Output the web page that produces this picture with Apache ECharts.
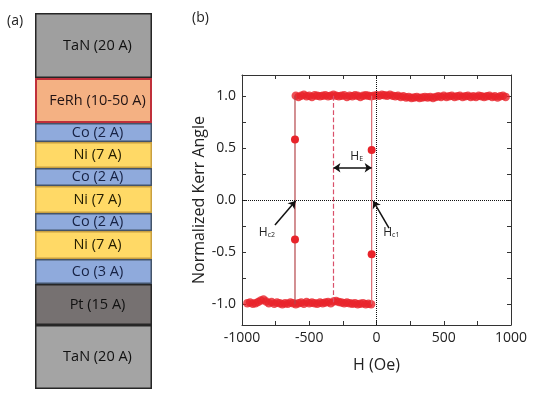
<!DOCTYPE html>
<html>
<head>
<meta charset="utf-8">
<script src="https://cdn.jsdelivr.net/npm/echarts@6/dist/echarts.min.js"></script>
<style>html,body{margin:0;padding:0;background:#fff;}#c{width:540px;height:398px;}</style>
</head>
<body>
<div id="c"></div>
<script>
// ---------- Panel (a): layer stack ----------
const layerNames = ['TaN (20 A)','FeRh (10-50 A)','Co (2 A)','Ni (7 A)','Co (2 A)','Ni (7 A)','Co (2 A)','Ni (7 A)','Co (3 A)','Pt (15 A)','TaN (20 A)'];
const layerDrawn = [65,45,19,26,18,27,18,28,25,41,64]; // drawn thickness

// ---------- Panel (b): hysteresis loop ----------
const upperH = [-600,-580,-560,-540,-520,-500,-480,-460,-440,-420,
  -400,-380,-360,-340,-320,-300,-280,-260,-240,-220,
  -200,-180,-160,-140,-120,-100,-80,-60,-40,-20,
  0,20,40,60,80,100,120,140,160,180,
  200,220,240,260,280,300,320,340,360,380,
  400,420,440,460,480,500,520,540,560,580,
  600,620,640,660,680,700,720,740,760,780,
  800,820,840,860,880,900,920,940,960];
const upperK = [1.0,0.99,1.0,1.01,0.995,1.0,0.99,1.005,1.0,0.995,
  1.0,1.005,0.995,1.0,1.01,1.0,0.995,1.0,1.005,0.99,
  1.0,0.995,1.005,1.0,0.99,1.0,1.005,1.0,0.995,1.0,
  1.005,1.0,1.01,1.005,1.0,1.01,1.0,0.995,1.0,0.99,
  0.995,0.985,0.99,0.98,0.985,0.99,0.98,0.985,0.99,0.985,
  0.99,0.98,0.99,0.995,0.99,1.0,0.99,0.995,1.0,0.99,
  0.995,1.0,0.99,0.995,1.0,0.99,0.995,0.99,1.0,0.995,
  0.99,0.995,1.0,0.99,0.995,0.985,0.995,1.0,0.99];
const lowerH = [-960,-940,-920,-900,-880,-860,-840,-820,-800,-780,
  -760,-740,-720,-700,-680,-660,-640,-620,-600,-580,
  -560,-540,-520,-500,-480,-460,-440,-420,-400,-380,
  -360,-340,-320,-300,-280,-260,-240,-220,-200,-180,
  -160,-140,-120,-100,-80,-60,-40];
const lowerK = [-0.99,-0.985,-0.995,-0.99,-0.98,-0.965,-0.955,-0.975,-0.99,-0.98,
  -0.995,-0.985,-0.99,-1.0,-0.99,-0.995,-0.985,-0.99,-1.0,-0.99,
  -0.985,-0.995,-0.98,-0.99,-0.985,-0.99,-0.995,-0.985,-0.99,-0.985,
  -0.98,-0.99,-0.975,-0.97,-0.98,-0.985,-0.99,-0.985,-0.99,-0.995,
  -0.99,-1.0,-0.995,-0.99,-1.0,-0.995,-1.0];
const hc2Field = -606;
const hc2K = [1.0, 0.58, -0.38, -1.0];
const hc1Field = -36;
const hc1K = [-1.0, -0.52, 0.48, 1.0];
const exchangeField = -320;

const xTicks = [-1000,-750,-500,-250,0,250,500,750,1000];
const xLabels = [-1000,-500,0,500,1000];
const yTicks = [-1,-0.75,-0.5,-0.25,0,0.25,0.5,0.75,1];
const yLabels = [-1,-0.5,0,0.5,1];

// ---------- styles ----------
const FONT = '"Open Sans", "Noto Sans", sans-serif';
const RED = '#e8232a';
const matStyle = {
  TaN: {color:'#a4a4a4', border:'#262626', text:'#111'},
  FeRh:{color:'#f4b183', border:'#c0303a', text:'#221414'},
  Co:  {color:'#8faadc', border:'#44546a', text:'#172244'},
  Ni:  {color:'#ffd966', border:'#c9a040', text:'#221c00'},
  Pt:  {color:'#767171', border:'#262626', text:'#111'}
};

const chart = echarts.init(document.getElementById('c'), null, {renderer:'canvas'});

const layerSeries = layerNames.map((n, i) => {
  const mat = n.split(' ')[0];
  const st = matStyle[mat];
  return {
    type:'bar', xAxisIndex:2, yAxisIndex:2, stack:'film', barWidth:'100%',
    data:[layerDrawn[i]], silent:true,
    itemStyle:{color: i===0 ? '#9f9f9f' : st.color, borderColor: st.border, borderWidth: mat==='FeRh'?2:1.5},
    label:{show:true, position:'inside', offset:[4,0], formatter:n, color:st.text, fontSize:14.5, fontFamily:FONT}
  };
});

const axisCommon = {
  axisLine:{show:true, onZero:false, lineStyle:{color:'#333', width:1}},
  splitLine:{show:false}
};

const option = {
  animation:false,
  textStyle:{fontFamily:FONT},
  graphic:[
    {type:'text', left:7, top:14, style:{text:'(a)', font:'14px '+FONT, fill:'#222'}},
    {type:'text', left:192, top:11, style:{text:'(b)', font:'14px '+FONT, fill:'#222'}}
  ],
  grid:[
    {left:242, right:29, top:75, bottom:73},
    {left:35, top:13, width:117, height:376}
  ],
  xAxis:[
    Object.assign({gridIndex:0, type:'value', min:-1000, max:1000, position:'bottom',
      name:'H (Oe)', nameLocation:'middle', nameGap:32,
      nameTextStyle:{fontSize:16, color:'#222', fontFamily:FONT},
      axisTick:{show:true, inside:true, length:4, customValues:xTicks, lineStyle:{color:'#333'}},
      axisLabel:{customValues:xLabels, fontSize:14, color:'#222', margin:6, fontFamily:FONT, formatter:v=>String(v)}
    }, axisCommon),
    Object.assign({gridIndex:0, type:'value', min:-1000, max:1000, position:'top',
      axisTick:{show:true, inside:true, length:4, customValues:xTicks, lineStyle:{color:'#333'}},
      axisLabel:{show:false}
    }, axisCommon),
    {gridIndex:1, type:'category', data:['stack'], show:false}
  ],
  yAxis:[
    Object.assign({gridIndex:0, type:'value', min:-1.2, max:1.2, position:'left',
      name:'Normalized Kerr Angle', nameLocation:'middle', nameGap:34, nameRotate:90,
      nameTextStyle:{fontSize:16, color:'#222', fontFamily:FONT},
      axisTick:{show:true, inside:true, length:4, customValues:yTicks, lineStyle:{color:'#333'}},
      axisLabel:{customValues:yLabels, fontSize:14, color:'#222', margin:6, fontFamily:FONT, formatter:v=>v.toFixed(1)}
    }, axisCommon),
    Object.assign({gridIndex:0, type:'value', min:-1.2, max:1.2, position:'right',
      axisTick:{show:true, inside:true, length:4, customValues:yTicks, lineStyle:{color:'#333'}},
      axisLabel:{show:false}
    }, axisCommon),
    {gridIndex:1, type:'value', min:0, max:376, inverse:true, show:false}
  ],
  series:[
    {type:'line', xAxisIndex:0, yAxisIndex:0, data:[], silent:true,
      markLine:{silent:true, symbol:['none','none'], label:{show:false},
        lineStyle:{type:'dotted', color:'#111', width:1},
        data:[{xAxis:0},{yAxis:0}]}
    },
    {type:'line', xAxisIndex:0, yAxisIndex:0, data:[], silent:true,
      markLine:{silent:true, symbol:['none','none'], label:{show:false},
        lineStyle:{type:'dashed', color:'#d9506a', width:1.2},
        data:[[{coord:[exchangeField, 1.0]},{coord:[exchangeField, -1.0]}]]}
    },
    {type:'scatter', xAxisIndex:0, yAxisIndex:0, symbolSize:8.5, itemStyle:{color:RED}, silent:true,
      data: upperH.map((h,i)=>[h, upperK[i]])},
    {type:'scatter', xAxisIndex:0, yAxisIndex:0, symbolSize:8.5, itemStyle:{color:RED}, silent:true,
      data: lowerH.map((h,i)=>[h, lowerK[i]])},
    {type:'line', xAxisIndex:0, yAxisIndex:0, silent:true, symbol:'circle',
      symbolSize:(v,p)=> (p.dataIndex===0||p.dataIndex===hc2K.length-1)?0:8,
      itemStyle:{color:RED}, lineStyle:{color:'#b5454a', width:1.2},
      data: hc2K.map(k=>[hc2Field,k])},
    {type:'line', xAxisIndex:0, yAxisIndex:0, silent:true, symbol:'circle',
      symbolSize:(v,p)=> (p.dataIndex===0||p.dataIndex===hc1K.length-1)?0:8,
      itemStyle:{color:RED}, lineStyle:{color:'#dd6b72', width:1.2},
      data: hc1K.map(k=>[hc1Field,k])},
    {type:'line', xAxisIndex:0, yAxisIndex:0, data:[], silent:true, z:5,
      markLine:{silent:true, label:{show:false}, symbolSize:7,
        lineStyle:{type:'solid', color:'#111', width:1.5},
        data:[
          [{coord:[exchangeField, 0.31], symbol:'arrow'},{coord:[hc1Field, 0.31], symbol:'arrow'}],
          [{coord:[-755, -0.24], symbol:'none'},{coord:[hc2Field+4, -0.01], symbol:'arrow'}],
          [{coord:[93, -0.27], symbol:'none', lineStyle:{curveness:-0.15}},{coord:[hc1Field+12, -0.01], symbol:'arrow'}]
        ]},
      markPoint:{silent:true, symbolSize:0,
        label:{show:true, position:'inside', color:'#222', fontFamily:FONT,
          rich:{h:{fontSize:12, color:'#222', fontFamily:FONT}, s:{fontSize:7, color:'#222', fontFamily:FONT, verticalAlign:'bottom', padding:[6,0,0,0]}}},
        data:[
          {coord:[-147, 0.42], label:{formatter:'{h|H}{s|E}'}},
          {coord:[-815, -0.31], label:{formatter:'{h|H}{s|c2}'}},
          {coord:[110, -0.31], label:{formatter:'{h|H}{s|c1}'}}
        ]}
    }
  ].concat(layerSeries)
};
chart.setOption(option);
</script>
</body>
</html>
